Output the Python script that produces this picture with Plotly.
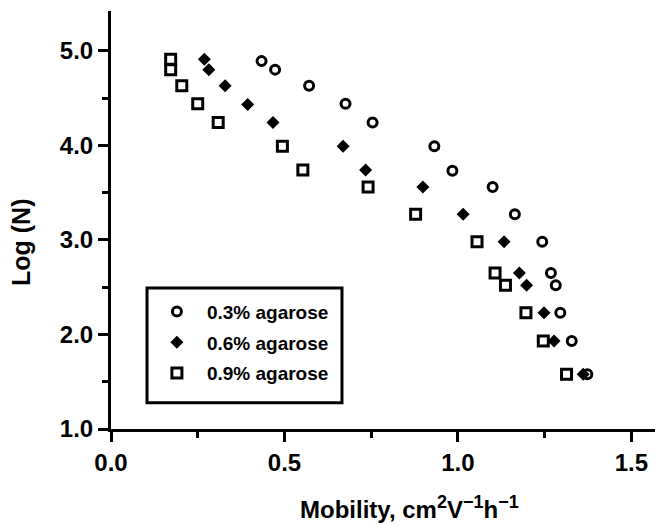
import plotly.graph_objects as go

# Mobility (cm^2 V^-1 h^-1) and Log(N) for each agarose concentration
mob_03 = [0.434, 0.473, 0.571, 0.676, 0.754, 0.932, 0.984, 1.100, 1.164, 1.243,
          1.268, 1.282, 1.295, 1.328, 1.373]
logn_03 = [4.89, 4.80, 4.63, 4.44, 4.24, 3.99, 3.73, 3.56, 3.27, 2.98,
           2.65, 2.52, 2.23, 1.93, 1.58]

mob_06 = [0.269, 0.282, 0.329, 0.394, 0.467, 0.669, 0.734, 0.899, 1.015, 1.133,
          1.177, 1.198, 1.248, 1.277, 1.361]
logn_06 = [4.91, 4.80, 4.63, 4.43, 4.24, 3.99, 3.74, 3.56, 3.27, 2.98,
           2.65, 2.52, 2.23, 1.93, 1.58]

mob_09 = [0.172, 0.172, 0.204, 0.250, 0.309, 0.494, 0.553, 0.741, 0.878, 1.055,
          1.107, 1.137, 1.196, 1.246, 1.313]
logn_09 = [4.91, 4.80, 4.63, 4.44, 4.24, 3.99, 3.74, 3.56, 3.27, 2.98,
           2.65, 2.52, 2.23, 1.93, 1.58]

labels = ["0.3% agarose", "0.6% agarose", "0.9% agarose"]

FONT = "Liberation Sans, Arial, sans-serif"
SUP = '<sup><span style="font-size:18px">{}</span></sup>'
x_title = ("Mobility, cm" + SUP.format("2") + "V" + SUP.format("\u22121")
           + "h" + SUP.format("\u22121"))
y_title = "Log (N)"

fig = go.Figure()
fig.add_trace(go.Scatter(
    x=mob_03, y=logn_03, mode="markers", name=labels[0], legendgroup="a",
    marker=dict(symbol="circle-open", size=9, color="black",
                line=dict(width=3, color="black")),
))
fig.add_trace(go.Scatter(
    x=mob_06, y=logn_06, mode="markers", name=labels[1], legendgroup="b",
    marker=dict(symbol="diamond", size=10, color="black",
                line=dict(width=0)),
))
fig.add_trace(go.Scatter(
    x=mob_09, y=logn_09, mode="markers", name=labels[2], legendgroup="c",
    marker=dict(symbol="square-open", size=10, color="black",
                line=dict(width=3, color="black")),
))

axis_common = dict(
    showgrid=False, zeroline=False, showline=True, linecolor="black",
    linewidth=3, ticks="outside", ticklen=10, tickwidth=3, tickcolor="black",
    tickfont=dict(family=FONT, size=24, color="black", weight="bold"),
    tickformat=".1f",
)

fig.update_xaxes(
    range=[0, 1.568], dtick=0.5, tick0=0,
    minor=dict(dtick=0.25, ticks="outside", ticklen=6, tickwidth=3,
               tickcolor="black", showgrid=False),
    **axis_common,
)
fig.update_yaxes(
    range=[1.0, 5.42], dtick=1, tick0=1,
    minor=dict(dtick=0.5, ticks="outside", ticklen=6, tickwidth=3,
               tickcolor="black", showgrid=False),
    **axis_common,
)

# Axis titles
fig.add_annotation(
    text=x_title, xref="paper", yref="paper", x=0.549, y=-0.187,
    xanchor="center", yanchor="middle", showarrow=False,
    font=dict(family=FONT, size=24, color="black", weight="bold"),
)
fig.add_annotation(
    text=y_title, xref="paper", yref="paper", x=-0.1654, y=0.445,
    xanchor="center", yanchor="middle", showarrow=False, textangle=-90,
    font=dict(family=FONT, size=25, color="black", weight="bold"),
)

# Frame around the legend
fig.add_shape(
    type="rect", xref="paper", yref="paper",
    x0=0.0662, x1=0.4246, y0=0.0628, y1=0.3376,
    line=dict(color="black", width=3), fillcolor="rgba(0,0,0,0)", layer="above",
)

fig.update_layout(
    width=655, height=525,
    margin=dict(l=111, r=0, t=11, b=96, pad=0),
    paper_bgcolor="white", plot_bgcolor="white",
    showlegend=True,
    legend=dict(
        x=0.0660, y=0.3260, xanchor="left", yanchor="top",
        borderwidth=0, bgcolor="rgba(0,0,0,0)",
        font=dict(family=FONT, size=19, color="black", weight="bold"),
        traceorder="grouped", tracegroupgap=3,
        itemwidth=50,
    ),
)

fig.write_html("out.html")
